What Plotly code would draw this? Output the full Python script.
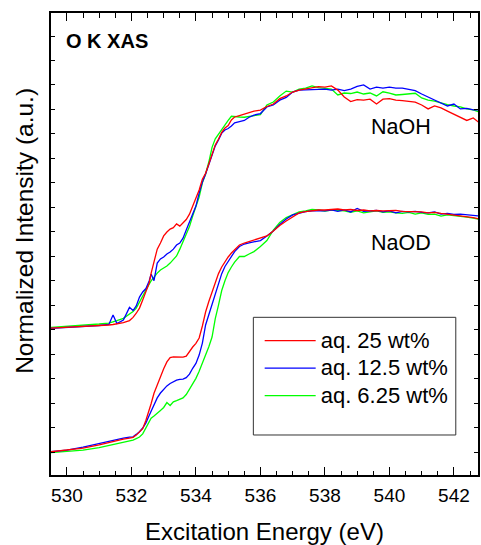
import plotly.graph_objects as go

# Excitation energy grid (eV)
energy = [529.5, 530.0, 530.5, 531.0, 531.3, 531.43, 531.55, 531.75, 531.94, 532.05,
          532.15, 532.25, 532.35, 532.45, 532.55, 532.61, 532.7, 532.8, 532.9, 533.0,
          533.1, 533.2, 533.3, 533.4, 533.5, 533.6, 533.7, 533.8, 533.9, 534.0,
          534.1, 534.2, 534.3, 534.4, 534.5, 534.6, 534.7, 534.8, 534.9, 535.0,
          535.1, 535.2, 535.35, 535.5, 535.65, 535.8, 536.0, 536.2, 536.4, 536.6,
          536.8, 537.0, 537.2, 537.4, 537.6, 537.8, 538.0, 538.2, 538.4, 538.6,
          538.8, 539.0, 539.2, 539.4, 539.6, 539.8, 540.0, 540.2, 540.4, 540.6,
          540.8, 541.0, 541.2, 541.4, 541.6, 541.8, 542.0, 542.2, 542.4, 542.6, 542.8]

# NaOH (offset, upper) spectra
naoh_25 = [5.06, 5.09, 5.13, 5.17, 5.19, 5.21, 5.23, 5.29, 5.37, 5.50,
           5.67, 5.88, 6.21, 6.58, 6.90, 7.30, 7.76, 8.29, 8.54, 8.83,
           8.99, 9.11, 9.17, 9.32, 9.23, 9.36, 9.50, 9.72, 10.05, 10.30,
           10.71, 11.15, 11.39, 11.77, 12.18, 12.55, 12.79, 13.06, 13.24, 13.34,
           13.57, 13.69, 13.75, 13.81, 13.87, 13.93, 13.97, 14.12, 14.22, 14.44,
           14.55, 14.71, 14.79, 14.83, 14.87, 14.93, 14.91, 14.96, 14.79, 14.51,
           14.32, 14.40, 14.38, 14.42, 14.22, 14.42, 14.44, 14.38, 14.36, 14.34,
           14.30, 14.18, 14.02, 14.14, 14.06, 13.93, 13.81, 13.69, 13.55, 13.65, 13.44]
naoh_125 = [5.05, 5.09, 5.11, 5.17, 5.21, 5.60, 5.25, 5.39, 5.91, 5.78,
            5.97, 6.33, 6.54, 6.68, 6.99, 7.27, 7.00, 7.72, 7.89, 7.97,
            8.09, 8.17, 8.29, 8.46, 8.54, 8.74, 9.07, 9.40, 9.69, 10.05,
            10.58, 11.03, 11.36, 11.77, 12.14, 12.51, 12.75, 13.03, 13.16, 13.22,
            13.32, 13.45, 13.50, 13.55, 13.68, 13.77, 13.83, 14.10, 14.18, 14.38,
            14.49, 14.71, 14.79, 14.81, 14.81, 14.82, 14.83, 14.79, 14.83, 14.77,
            14.83, 14.94, 15.00, 14.83, 14.91, 14.87, 14.91, 14.87, 14.87, 14.81,
            14.77, 14.63, 14.51, 14.38, 14.26, 14.14, 14.22, 14.02, 14.04, 13.98, 13.98]
naoh_625 = [5.09, 5.13, 5.17, 5.23, 5.27, 5.31, 5.37, 5.46, 5.64, 5.74,
            5.88, 6.13, 6.37, 6.66, 6.86, 6.99, 7.15, 7.31, 7.44, 7.52,
            7.60, 7.72, 7.85, 8.01, 8.29, 8.58, 8.91, 9.21, 9.64, 10.01,
            10.42, 11.00, 11.36, 11.85, 12.45, 12.80, 13.00, 13.20, 13.35, 13.55,
            13.72, 13.70, 13.69, 13.68, 13.71, 13.75, 13.79, 14.18, 14.30, 14.55,
            14.75, 14.71, 14.83, 14.87, 14.96, 14.89, 14.87, 14.83, 14.59, 14.67,
            14.65, 14.71, 14.63, 14.67, 14.55, 14.72, 14.67, 14.59, 14.61, 14.63,
            14.66, 14.47, 14.38, 14.34, 14.26, 14.20, 14.14, 14.10, 14.02, 13.98, 13.89]

# NaOD (lower) spectra
naod_25 = [0.01, 0.08, 0.16, 0.29, 0.39, 0.43, 0.47, 0.53, 0.57, 0.60,
           0.69, 0.83, 0.95, 1.30, 1.68, 1.97, 2.40, 2.75, 3.08, 3.40,
           3.68, 3.86, 3.89, 3.89, 3.89, 3.88, 3.92, 4.13, 4.29, 4.44,
           4.66, 5.15, 5.72, 6.15, 6.54, 6.88, 7.29, 7.56, 7.78, 7.97,
           8.13, 8.27, 8.46, 8.54, 8.60, 8.66, 8.74, 8.83, 9.03, 9.26,
           9.44, 9.62, 9.77, 9.82, 9.87, 9.89, 9.89, 9.91, 9.93, 9.89,
           9.91, 9.87, 9.89, 9.85, 9.87, 9.85, 9.85, 9.87, 9.83, 9.83,
           9.81, 9.81, 9.77, 9.79, 9.75, 9.72, 9.69, 9.64, 9.62, 9.58, 9.52]
naod_125 = [0.01, 0.08, 0.20, 0.35, 0.45, 0.49, 0.53, 0.57, 0.61, 0.62,
            0.72, 0.83, 0.98, 1.19, 1.49, 1.68, 1.96, 2.21, 2.41, 2.57,
            2.70, 2.80, 2.88, 2.94, 2.97, 2.98, 3.04, 3.18, 3.42, 3.62,
            3.96, 4.45, 5.19, 5.62, 6.00, 6.42, 6.85, 7.29, 7.58, 7.80,
            8.00, 8.19, 8.40, 8.50, 8.55, 8.58, 8.64, 8.83, 9.03, 9.30,
            9.52, 9.69, 9.77, 9.82, 9.85, 9.87, 9.85, 9.89, 9.83, 9.89,
            9.81, 9.95, 9.83, 9.85, 9.87, 9.81, 9.85, 9.77, 9.83, 9.81,
            9.83, 9.79, 9.77, 9.81, 9.72, 9.75, 9.71, 9.72, 9.69, 9.67, 9.64]
naod_625 = [-0.03, 0.02, 0.08, 0.18, 0.27, 0.31, 0.36, 0.39, 0.45, 0.49,
            0.55, 0.61, 0.74, 1.00, 1.28, 1.38, 1.47, 1.57, 1.70, 1.82,
            2.02, 1.90, 2.05, 2.10, 2.15, 2.21, 2.35, 2.56, 2.78, 3.01,
            3.30, 3.62, 3.95, 4.30, 4.70, 5.45, 6.00, 6.60, 7.00, 7.33,
            7.56, 7.76, 7.99, 7.99, 8.09, 8.19, 8.40, 8.64, 9.07, 9.38,
            9.58, 9.71, 9.81, 9.85, 9.91, 9.89, 9.85, 9.89, 9.87, 9.85,
            9.79, 9.85, 9.77, 9.81, 9.85, 9.79, 9.81, 9.77, 9.75, 9.79,
            9.72, 9.77, 9.71, 9.72, 9.64, 9.69, 9.67, 9.62, 9.60, 9.56, 9.50]

labels = ["aq. 25 wt%", "aq. 12.5 wt%", "aq. 6.25 wt%"]
colors = ["#FF0000", "#0000FF", "#00FF00"]
naoh = [naoh_25, naoh_125, naoh_625]
naod = [naod_25, naod_125, naod_625]

FONT = "Liberation Sans, Arial, sans-serif"

fig = go.Figure()
for i in [2, 1, 0]:
    fig.add_trace(go.Scatter(x=energy, y=naoh[i], mode="lines",
                             name='<span style="font-size:22px">' + labels[i] + '</span>',
                             legendgroup=labels[i], legendrank=i + 1,
                             line=dict(color=colors[i], width=1.3)))
for i in [2, 1, 0]:
    fig.add_trace(go.Scatter(x=energy, y=naod[i], mode="lines", name=labels[i],
                             legendgroup=labels[i], showlegend=False,
                             line=dict(color=colors[i], width=1.3)))

axis_common = dict(showline=True, linecolor="black", linewidth=2, mirror="ticks",
                   ticks="inside", tickcolor="black", tickwidth=1.3,
                   showgrid=False, zeroline=False)

fig.update_xaxes(range=[529.506, 542.747], tick0=530, dtick=2, ticklen=8,
                 minor=dict(dtick=0.5, ticks="inside", ticklen=4.5, tickcolor="black", tickwidth=1.3),
                 tickfont=dict(family=FONT, size=19, color="black"), ticklabelstandoff=2,
                 title=dict(text="Excitation Energy (eV)", font=dict(family=FONT, size=24, color="black"),
                            standoff=20),
                 **axis_common)
fig.update_yaxes(range=[-0.94, 17.94], tick0=0, dtick=1, ticklen=4, showticklabels=False,
                 **axis_common)

# y-axis title (placed slightly above the axis centre, as in the original)
fig.add_annotation(x=-0.0606, y=0.5287, xref="paper", yref="paper",
                   text="Normalized Intensity (a.u.)", textangle=-90,
                   showarrow=False, xanchor="center", yanchor="middle",
                   font=dict(family=FONT, size=24.5, color="black"))

fig.add_annotation(x=0.030, y=0.939, xref="paper", yref="paper", text="<b>O K XAS</b>",
                   showarrow=False, xanchor="left", yanchor="middle",
                   font=dict(family=FONT, size=20, color="black"))
fig.add_annotation(x=0.8205, y=0.7526, xref="paper", yref="paper", text="NaOH",
                   showarrow=False, xanchor="center", yanchor="middle",
                   font=dict(family=FONT, size=21.5, color="black"))
fig.add_annotation(x=0.8205, y=0.5032, xref="paper", yref="paper", text="NaOD",
                   showarrow=False, xanchor="center", yanchor="middle",
                   font=dict(family=FONT, size=21.5, color="black"))

# legend frame
fig.add_shape(type="rect", xref="paper", yref="paper", x0=0.4739, x1=0.948, y0=0.0866, y1=0.3413,
              line=dict(color="#333333", width=1), fillcolor="rgba(0,0,0,0)")

fig.update_layout(
    width=481, height=545,
    margin=dict(l=51, r=1, t=13, b=70),
    paper_bgcolor="white", plot_bgcolor="white",
    showlegend=True,
    legend=dict(x=0.4887, y=0.3316, xanchor="left", yanchor="top",
                bgcolor="rgba(0,0,0,0)", borderwidth=0, itemwidth=51,
                font=dict(family=FONT, size=18.85, color="black"), tracegroupgap=0),
)

fig.write_html("out.html")
